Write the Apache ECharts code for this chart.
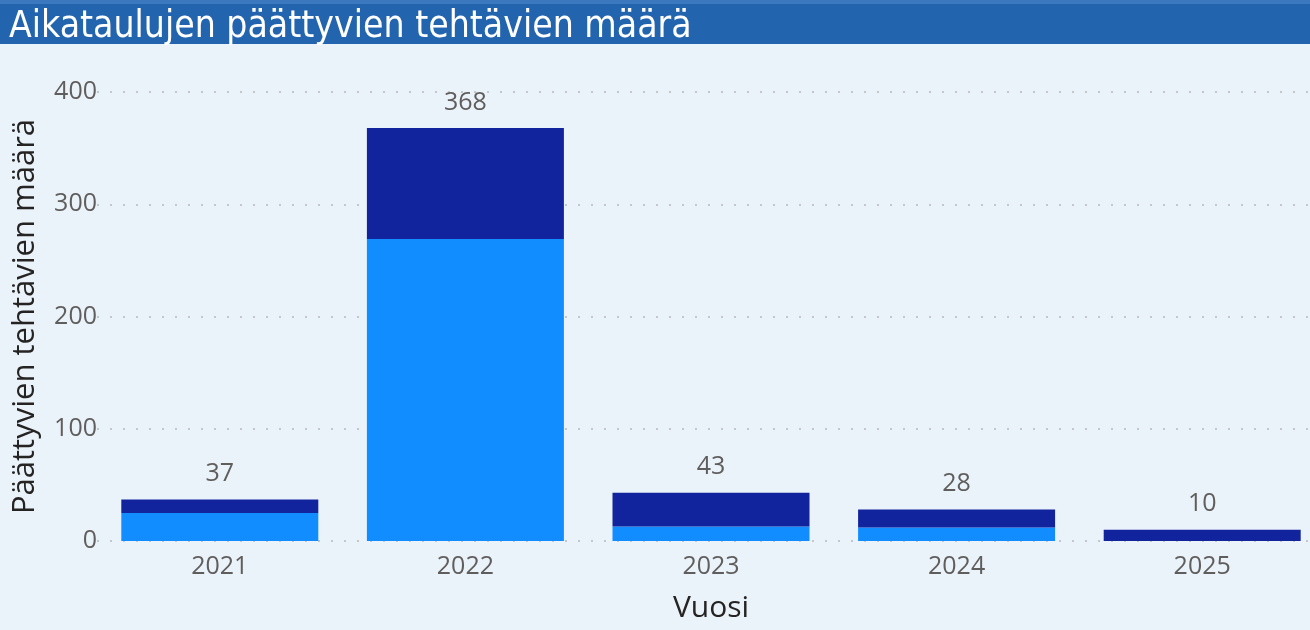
<!DOCTYPE html>
<html>
<head>
<meta charset="utf-8">
<script src="https://cdn.jsdelivr.net/npm/echarts@6/dist/echarts.min.js"></script>
<style>
  html, body { margin: 0; padding: 0; background: #eaf2fa; width: 1310px; height: 630px; overflow: hidden; }
  #main { width: 1330px; height: 630px; }
</style>
</head>
<body>
<div id="main"></div>
<script>
// vuodet ja arvot luettu kuvasta
var years = ['2021', '2022', '2023', '2024', '2025']
var lightVals = [25, 269, 13, 12, 0]
var darkVals = [12, 99, 30, 16, 10]
var yTicks = [0, 100, 200, 300, 400]

var chart = echarts.init(document.getElementById('main'))

var option = {
    backgroundColor: '#eaf2fa',
    animation: false,
    graphic: [{
        type: 'rect',
        left: 0,
        top: 0,
        shape: { width: 1330, height: 44 },
        style: { fill: '#2264ad' }
    }, {
        type: 'rect',
        left: 0,
        top: 0,
        shape: { width: 1330, height: 4 },
        style: { fill: '#3b78bd' }
    }],
    title: {
        text: 'Aikataulujen päättyvien tehtävien määrä',
        left: 4,
        top: 4,
        textStyle: {
            color: '#ffffff',
            fontFamily: 'DejaVu Sans Condensed',
            fontWeight: 'normal',
            fontSize: 37
        }
    },
    grid: {
        left: 97,
        top: 92,
        bottom: 89,
        right: 5
    },
    xAxis: {
        type: 'category',
        data: years,
        name: 'Vuosi',
        nameLocation: 'middle',
        nameGap: 52,
        nameTextStyle: { color: '#252423', fontSize: 30, fontFamily: 'Open Sans' },
        axisLine: { show: false },
        axisTick: { show: false },
        axisLabel: { color: '#605e5c', fontSize: 25, fontFamily: 'Open Sans', margin: 13 }
    },
    yAxis: {
        type: 'value',
        min: yTicks[0],
        max: yTicks[yTicks.length - 1],
        interval: 100,
        name: 'Päättyvien tehtävien määrä',
        nameLocation: 'middle',
        nameGap: 56,
        nameTextStyle: { color: '#252423', fontSize: 31, fontFamily: 'Open Sans' },
        axisLabel: { color: '#605e5c', fontSize: 25, fontFamily: 'Open Sans', margin: 0 },
        splitLine: {
            lineStyle: { color: '#c4c8cc', type: [2, 11], width: 2 }
        }
    },
    series: [{
        name: 'A',
        type: 'bar',
        stack: 'total',
        barWidth: 197,
        itemStyle: { color: '#118dff' },
        data: lightVals
    }, {
        name: 'B',
        type: 'bar',
        stack: 'total',
        barWidth: 197,
        itemStyle: { color: '#12239e' },
        label: {
            show: true,
            position: 'top',
            distance: 13,
            color: '#605e5c',
            fontSize: 25,
            fontFamily: 'Open Sans',
            formatter: function (p) {
                return lightVals[p.dataIndex] + darkVals[p.dataIndex]
            }
        },
        data: darkVals
    }]
}

chart.setOption(option)
</script>
</body>
</html>
